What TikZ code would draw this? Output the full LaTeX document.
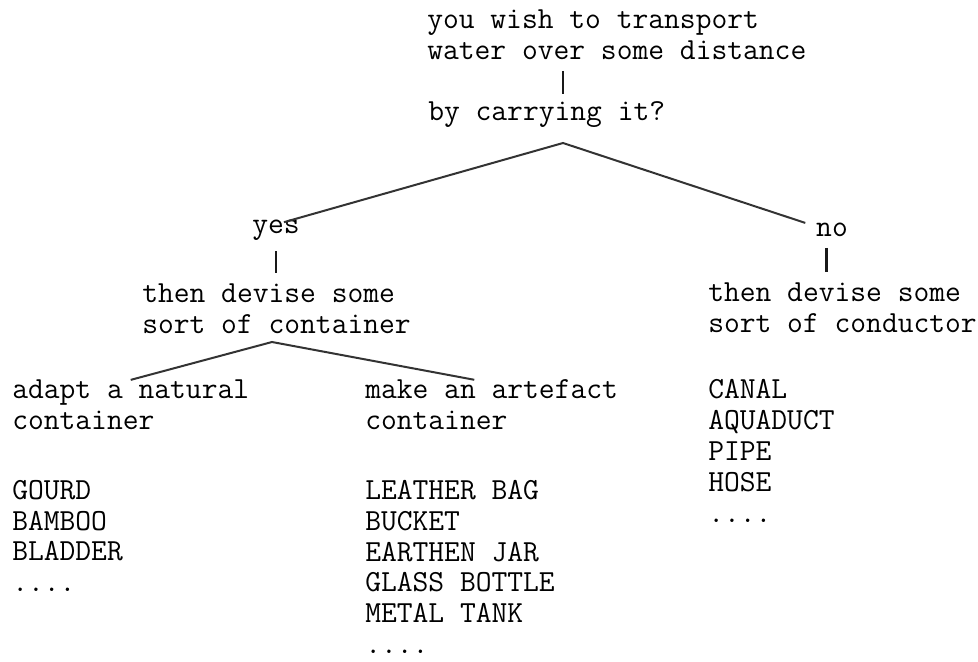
\documentclass[tikz,border=0pt]{standalone}
\begin{document}
\begin{tikzpicture}[x=0.75pt,y=0.75pt,yscale=-1,xscale=1,
  txt/.style={inner sep=0pt,align=left,text=black,font=\ttfamily\fontsize{23}{23.1}\selectfont},
  stem/.style={line width=2pt,draw=black!90},
  branch/.style={line width=1.5pt,draw=black!80}]
\useasboundingbox (0,0) rectangle (978,661);

% Text Node
\node[txt,anchor=west] (goal) at (427,35) {you wish to transport\\water over some distance};
% Text Node
\node[txt,anchor=west] (carry) at (428,115) {by carrying it?};
% Text Node
\node[txt] (yes) at (276,230) {yes};
% Text Node
\node[txt] (no) at (832,230) {no};
% Text Node
\node[txt,anchor=west] (devcont) at (142,309) {then devise some\\sort of container};
% Text Node
\node[txt,anchor=west] (devcond) at (708,308) {then devise some\\sort of conductor};
% Text Node
\node[txt,anchor=west] (natural) at (12,405) {adapt a natural\\container};
% Text Node
\node[txt,anchor=west] (artefact) at (365,405) {make an artefact\\container};
% Text Node
\node[txt,anchor=west] (natlist) at (12,536) {GOURD\\BAMBOO\\BLADDER\\....};
% Text Node
\node[txt,anchor=west] (artlist) at (365,567) {LEATHER BAG\\BUCKET\\EARTHEN JAR\\GLASS BOTTLE\\METAL TANK\\....};
% Text Node
\node[txt,anchor=west] (condlist) at (708,451) {CANAL\\AQUADUCT\\PIPE\\HOSE\\....};

%Forks
\coordinate (fork) at (563,143);
\coordinate (subfork) at (272,342);

%Straight Lines
\draw[stem,shorten <=8pt,shorten >=6pt] (goal.south -| fork) -- (carry.north -| fork);
\draw[stem,shorten <=8pt,shorten >=8pt] (yes.south) -- (yes.south |- devcont.north);
\draw[stem,shorten <=8pt,shorten >=8pt] ([xshift=-4]no.south) -- ([xshift=-4]no.south |- devcond.north);
\draw[branch] ([xshift=-12,yshift=2]yes.north east) -- (fork) -- ([xshift=-8]no.north west);
\draw[branch] (natural.north) -- (subfork) -- ([xshift=-13]artefact.north);

\end{tikzpicture}
\end{document}
